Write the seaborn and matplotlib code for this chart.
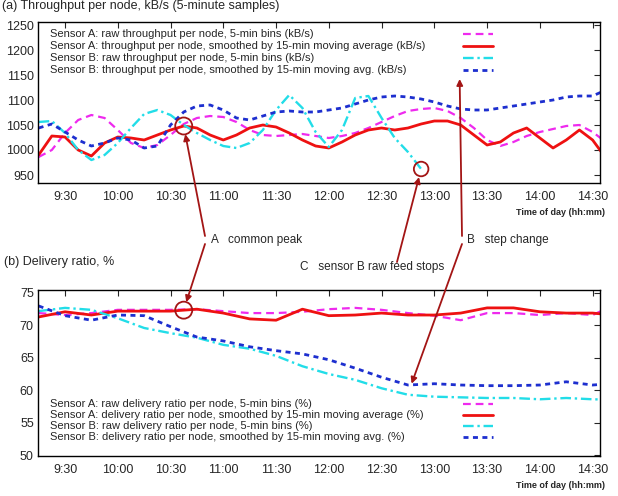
import numpy as np
import pandas as pd
import matplotlib
matplotlib.use("Agg")
import matplotlib.pyplot as plt
import seaborn as sns

# time axis (hours of day)
hours_fine = [9.25 + 0.125 * i for i in range(44)]
hours_coarse = [9.25 + 0.25 * i for i in range(23)]
tick_hours = [9.5, 10.0, 10.5, 11.0, 11.5, 12.0, 12.5, 13.0, 13.5, 14.0, 14.5]
tick_labels = ["9:30", "10:00", "10:30", "11:00", "11:30", "12:00",
               "12:30", "13:00", "13:30", "14:00", "14:30"]

# upper panel: throughput per node (kB/s)
thr_a_raw = [986, 1000, 1034, 1060, 1070, 1064, 1040, 1014, 1004, 1010, 1030, 1052,
             1064, 1068, 1066, 1056, 1040, 1030, 1028, 1030, 1032, 1028, 1024, 1028,
             1034, 1044, 1056, 1068, 1078, 1082, 1084, 1078, 1064, 1044, 1020, 1008,
             1016, 1028, 1036, 1042, 1048, 1050, 1036, 1016]
thr_a_smooth = [990, 1028, 1026, 1000, 988, 1014, 1026, 1024, 1020, 1030, 1040, 1048,
                1044, 1030, 1020, 1030, 1044, 1050, 1046, 1034, 1020, 1008, 1004, 1016,
                1030, 1040, 1044, 1040, 1044, 1052, 1058, 1058, 1050, 1030, 1010, 1016,
                1034, 1044, 1024, 1004, 1020, 1040, 1020, 984]
thr_b_raw = [1056, 1058, 1034, 1000, 980, 990, 1014, 1044, 1072, 1080, 1070, 1050,
             1034, 1020, 1008, 1004, 1014, 1040, 1080, 1110, 1084, 1036, 1006, 1040,
             1104, 1108, 1064, 1024, 996, 962] + [np.nan] * 14
thr_b_smooth = [1044, 1052, 1036, 1020, 1008, 1014, 1024, 1020, 1004, 1008, 1050, 1076,
                1088, 1090, 1080, 1064, 1060, 1068, 1076, 1078, 1076, 1076, 1080, 1084,
                1092, 1100, 1106, 1108, 1106, 1102, 1096, 1088, 1082, 1080, 1080, 1084,
                1088, 1092, 1096, 1100, 1106, 1108, 1108, 1120]

# lower panel: packet delivery ratio (%)
pdr_a_raw = [71.9, 71.6, 71.9, 72.4, 72.4, 72.4, 72.5, 72.2, 71.9, 71.9, 72.1, 72.5,
             72.7, 72.4, 71.9, 71.5, 70.8, 71.9, 71.9, 71.6, 71.9, 71.6, 73.5]
pdr_a_smooth = [71.3, 72.1, 71.6, 72.2, 72.2, 72.2, 72.5, 71.9, 71.0, 70.8, 72.5, 71.5,
                71.6, 71.9, 71.6, 71.6, 71.9, 72.7, 72.7, 72.1, 71.9, 71.9, 71.5]
pdr_b_raw = [72.2, 72.7, 72.4, 71.1, 69.6, 68.8, 68.1, 67.0, 66.4, 65.3, 63.7, 62.5,
             61.6, 60.3, 59.3, 59.0, 58.9, 58.8, 58.8, 58.6, 58.8, 58.6, 58.5]
pdr_b_smooth = [73.0, 71.5, 70.8, 71.6, 71.5, 69.8, 68.2, 67.6, 66.7, 66.1, 65.6, 64.7,
                63.4, 62.0, 60.8, 61.0, 60.8, 60.7, 60.7, 60.8, 61.3, 60.8, 61.1]

labels_top = ["Sensor A: raw throughput per node, 5-min bins (kB/s)",
              "Sensor A: throughput per node, smoothed by 15-min moving average (kB/s)",
              "Sensor B: raw throughput per node, 5-min bins (kB/s)",
              "Sensor B: throughput per node, smoothed by 15-min moving avg. (kB/s)"]
labels_bottom = ["Sensor A: raw delivery ratio per node, 5-min bins (%)",
                 "Sensor A: delivery ratio per node, smoothed by 15-min moving average (%)",
                 "Sensor B: raw delivery ratio per node, 5-min bins (%)",
                 "Sensor B: delivery ratio per node, smoothed by 15-min moving avg. (%)"]

# line styles: colour, width, dash pattern
styles = [("#ee2aee", 1.6, (0, (3.5, 2.2))),
          ("#ee1111", 2.0, "-"),
          ("#22dde8", 1.7, (0, (4.5, 1.6, 1.0, 1.6))),
          ("#1d2fcf", 2.0, (0, (1.8, 1.6)))]
DARKRED = "#a31515"

sns.set_style("white")
plt.rcParams["font.family"] = ["Liberation Sans", "DejaVu Sans"]

W, H = 618, 496
fig = plt.figure(figsize=(W / 100, H / 100), dpi=100)
fx = lambda px: px / W
fy = lambda py: 1 - py / H

ax1 = fig.add_axes([fx(38), fy(183), fx(600) - fx(38), (183 - 22) / H])
ax2 = fig.add_axes([fx(38), fy(456), fx(600) - fx(38), (456 - 290) / H])

top = pd.DataFrame({"t": hours_fine, "a_raw": thr_a_raw, "a_s": thr_a_smooth,
                    "b_raw": thr_b_raw, "b_s": thr_b_smooth})
bot = pd.DataFrame({"t": hours_coarse, "a_raw": pdr_a_raw, "a_s": pdr_a_smooth,
                    "b_raw": pdr_b_raw, "b_s": pdr_b_smooth})


def draw_panel(ax, df, labels, key_rows):
    for col, (c, lw, ls) in zip(["a_raw", "a_s", "b_raw", "b_s"], styles):
        d = df[["t", col]].dropna()
        sns.lineplot(data=d, x="t", y=col, ax=ax, color=c, lw=lw, linestyle=ls,
                     estimator=None, sort=False)
    # gnuplot-style key: text on the left, sample on the right
    for lab, (c, lw, ls), yy in zip(labels, styles, key_rows):
        ax.text(0.021, yy, lab, transform=ax.transAxes, fontsize=8,
                va="center", ha="left")
        ax.plot([0.756, 0.81], [yy, yy], transform=ax.transAxes, color=c,
                lw=lw, linestyle=ls, clip_on=False)
    ax.set_xlim(9.244, 14.57)
    ax.set_xticks(tick_hours)
    ax.set_xticklabels(tick_labels)
    ax.set_xlabel("")
    ax.set_ylabel("")
    ax.tick_params(direction="in", top=True, right=True, length=4,
                   labelsize=9, width=0.8)
    ax.tick_params(axis="x", pad=6)
    ax.tick_params(axis="y", pad=3)
    for s in ax.spines.values():
        s.set_color("black")
        s.set_linewidth(1.0)
    ax.patch.set_alpha(0)


draw_panel(ax1, top, labels_top, [0.925, 0.851, 0.776, 0.702])
ax1.set_ylim(934, 1256)
ax1.set_yticks([950, 1000, 1050, 1100, 1150, 1200, 1250])

draw_panel(ax2, bot, labels_bottom, [0.313, 0.247, 0.181, 0.114])
ax2.set_ylim(49.85, 75.46)
ax2.set_yticks([50, 55, 60, 65, 70, 75])

fig.text(fx(605), fy(212), "Time of day (hh:mm)", fontsize=6.5,
         fontweight="bold", ha="right", va="center")
fig.text(fx(605), fy(485), "Time of day (hh:mm)", fontsize=6.5,
         fontweight="bold", ha="right", va="center")

# panel titles
fig.text(fx(2), fy(6), "(a) Throughput per node, kB/s (5-minute samples)",
         fontsize=9, ha="left", va="center")
fig.text(fx(4), fy(262), "(b) Delivery ratio, %", fontsize=9,
         ha="left", va="center")

# highlighted points
pk = 11
peak_t = hours_fine[pk]
peak_top = thr_a_smooth[pk]
peak_bot = float(np.interp(peak_t, hours_coarse, pdr_a_smooth))
stop_i = 29
stop_t = hours_fine[stop_i]
stop_v = thr_b_raw[stop_i]
ring = dict(s=150, facecolors="none", edgecolors=DARKRED, linewidths=1.3,
            zorder=6, clip_on=False)
ax1.scatter([peak_t], [peak_top], **ring)
ax1.scatter([stop_t], [stop_v], s=110, facecolors="none", edgecolors=DARKRED,
            linewidths=1.3, zorder=6)
ax2.scatter([peak_t], [peak_bot], **ring)

arrow = dict(arrowstyle="-|>", color=DARKRED, lw=1.3, mutation_scale=9,
             shrinkA=0, shrinkB=6)
ax1.annotate("", xy=(peak_t, peak_top), xytext=(fx(205), fy(236)),
             textcoords="figure fraction", arrowprops=arrow, annotation_clip=False)
ax2.annotate("", xy=(peak_t, peak_bot), xytext=(fx(205), fy(244)),
             textcoords="figure fraction", arrowprops=arrow, annotation_clip=False)
ax1.annotate("", xy=(stop_t, stop_v), xytext=(fx(397), fy(262)),
             textcoords="figure fraction", arrowprops=arrow, annotation_clip=False)

ax1.annotate("", xy=(13.24, 1142), xytext=(fx(462), fy(236)),
             textcoords="figure fraction",
             arrowprops=dict(arrow, shrinkB=0), annotation_clip=False)
ax2.annotate("", xy=(12.78, pdr_b_smooth[14]), xytext=(fx(462), fy(244)),
             textcoords="figure fraction",
             arrowprops=dict(arrow, shrinkB=1), annotation_clip=False)

fig.text(fx(211), fy(240), "A   common peak", fontsize=8.5, ha="left", va="center")
fig.text(fx(467), fy(240), "B   step change", fontsize=8.5, ha="left", va="center")
fig.text(fx(300), fy(267), "C   sensor B raw feed stops", fontsize=8.5,
         ha="left", va="center")

fig.savefig("out.png", dpi=100)
